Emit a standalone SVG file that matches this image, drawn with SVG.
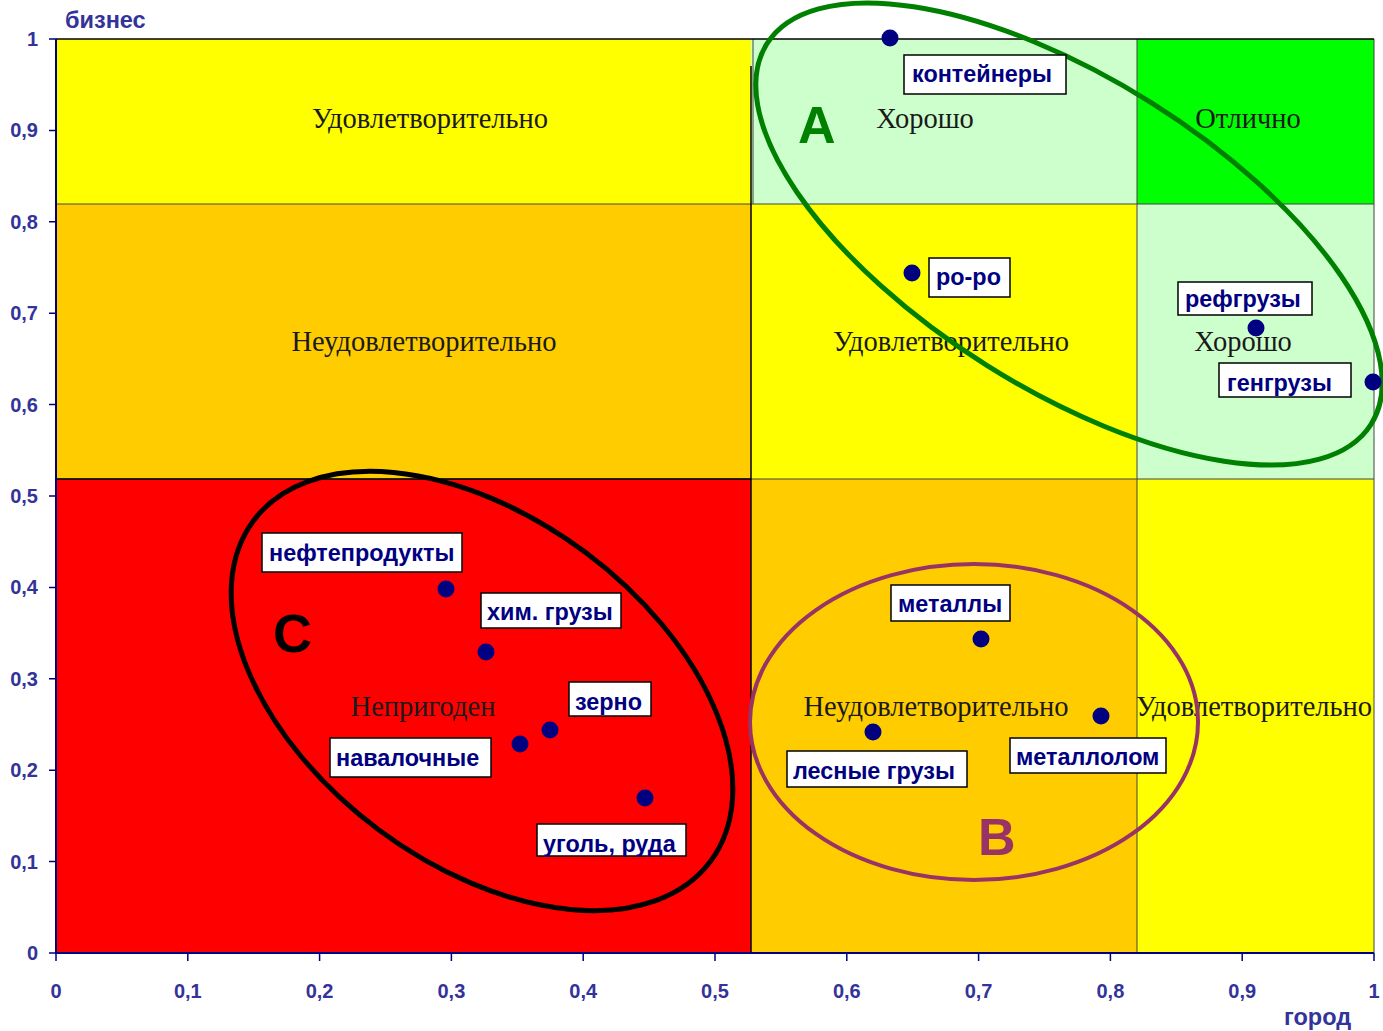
<svg xmlns="http://www.w3.org/2000/svg" width="1383" height="1031" viewBox="0 0 1383 1031">
<style>
.ax{font-family:"Liberation Sans",Arial,sans-serif;font-weight:bold;font-size:20px;fill:#333399}
.tt{font-size:23.5px}
.rl{font-family:"Liberation Serif","Times New Roman",serif;font-size:28.5px;fill:#1a1a1a;text-anchor:middle}
.lb rect{fill:#fff;stroke:#000;stroke-width:1.5}
.lb text{font-family:"Liberation Sans",Arial,sans-serif;font-weight:bold;font-size:23.4px;fill:#000080}
.dot{fill:#000080}
.bd{stroke:#444;stroke-width:1;fill:none}
</style>
<rect width="1383" height="1031" fill="#fff"/>
<g id="regions">
<rect x="56" y="39" width="695" height="165" fill="#ffff00"/>
<rect x="751" y="39" width="386" height="165" fill="#ccffcc"/>
<rect x="1137" y="39" width="237" height="165" fill="#00ff00"/>
<rect x="56" y="204" width="695" height="275" fill="#ffcc00"/>
<rect x="751" y="204" width="386" height="275" fill="#ffff00"/>
<rect x="1137" y="204" width="237" height="275" fill="#ccffcc"/>
<rect x="56" y="479" width="695" height="474" fill="#ff0000"/>
<rect x="751" y="479" width="386" height="474" fill="#ffcc00"/>
<rect x="1137" y="479" width="237" height="474" fill="#ffff00"/>
<path class="bd" d="M56 204H1374M56 479H1374M753 39V204M1137 39V953M1374 39V953"/>
<path d="M751 66V953" stroke="#000" stroke-width="1.5"/>
<path d="M56 39H1374" stroke="#000" stroke-width="1.5"/>
<path d="M56 479H751" stroke="#000" stroke-width="1.5"/>
<text class="rl" x="430" y="128">Удовлетворительно</text>
<text class="rl" x="925" y="128">Хорошо</text>
<text class="rl" x="1248" y="128">Отлично</text>
<text class="rl" x="424" y="351">Неудовлетворительно</text>
<text class="rl" x="951" y="351">Удовлетворительно</text>
<text class="rl" x="1243" y="351">Хорошо</text>
<text class="rl" x="423" y="716">Непригоден</text>
<text class="rl" x="936" y="716">Неудовлетворительно</text>
<text class="rl" x="1254" y="716">Удовлетворительно</text>
</g>
<g id="axes">
<path d="M56 39V953H1374" stroke="#000080" stroke-width="2" fill="none"/>
<path stroke="#000080" stroke-width="1.5" d="M49 39H56M49 130.4H56M49 221.8H56M49 313.2H56M49 404.6H56M49 496H56M49 587.4H56M49 678.8H56M49 770.2H56M49 861.6H56M49 953H56M56 953V961M187.8 953V961M319.6 953V961M451.4 953V961M583.2 953V961M715 953V961M846.8 953V961M978.6 953V961M1110.4 953V961M1242.2 953V961M1374 953V961"/>
<g class="ax" text-anchor="end">
<text x="38" y="46">1</text>
<text x="38" y="137">0,9</text>
<text x="38" y="229">0,8</text>
<text x="38" y="320">0,7</text>
<text x="38" y="412">0,6</text>
<text x="38" y="503">0,5</text>
<text x="38" y="594">0,4</text>
<text x="38" y="686">0,3</text>
<text x="38" y="777">0,2</text>
<text x="38" y="869">0,1</text>
<text x="38" y="960">0</text>
</g>
<g class="ax" text-anchor="middle">
<text x="56" y="998">0</text>
<text x="187.8" y="998">0,1</text>
<text x="319.6" y="998">0,2</text>
<text x="451.4" y="998">0,3</text>
<text x="583.2" y="998">0,4</text>
<text x="715" y="998">0,5</text>
<text x="846.8" y="998">0,6</text>
<text x="978.6" y="998">0,7</text>
<text x="1110.4" y="998">0,8</text>
<text x="1242.2" y="998">0,9</text>
<text x="1374" y="998">1</text>
</g>
<text class="ax tt" x="65" y="28">бизнес</text>
<text class="ax tt" x="1284" y="1025">город</text>
</g>
<g id="groups" fill="none">
<ellipse cx="1069" cy="234" rx="357" ry="155" transform="rotate(32.2 1069 234)" stroke="#008000" stroke-width="5"/>
<ellipse cx="482" cy="691" rx="285" ry="173" transform="rotate(36.7 482 691)" stroke="#000" stroke-width="5"/>
<ellipse cx="974" cy="722" rx="224" ry="158" stroke="#993366" stroke-width="4"/>
<text x="798" y="143" font-family="Liberation Sans,Arial,sans-serif" font-weight="bold" font-size="52" fill="#008000">A</text>
<text x="273" y="652" font-family="Liberation Sans,Arial,sans-serif" font-weight="bold" font-size="54" fill="#000">C</text>
<text x="978" y="855" font-family="Liberation Sans,Arial,sans-serif" font-weight="bold" font-size="52" fill="#993366">B</text>
</g>
<g id="p-konteinery" class="lb"><circle class="dot" cx="890" cy="38" r="8.5"/><rect x="904" y="55" width="162" height="39"/><text x="912" y="82">контейнеры</text></g>
<g id="p-roro" class="lb"><circle class="dot" cx="912" cy="273" r="8.5"/><rect x="929" y="258" width="81" height="39"/><text x="936" y="285">ро-ро</text></g>
<g id="p-ref" class="lb"><circle class="dot" cx="1256" cy="328" r="8.5"/><rect x="1178" y="282" width="134" height="33"/><text x="1185" y="307">рефгрузы</text></g>
<g id="p-gen" class="lb"><rect x="1219" y="363" width="132" height="34"/><text x="1227" y="391">генгрузы</text><circle class="dot" cx="1373" cy="382" r="8.5"/></g>
<g id="p-neft" class="lb"><circle class="dot" cx="446" cy="589" r="8.5"/><rect x="262" y="533" width="200" height="39"/><text x="269" y="561">нефтепродукты</text></g>
<g id="p-him" class="lb"><circle class="dot" cx="486" cy="652" r="8.5"/><rect x="481" y="593" width="140" height="35"/><text x="487" y="620">хим. грузы</text></g>
<g id="p-zerno" class="lb"><circle class="dot" cx="550" cy="730" r="8.5"/><rect x="569" y="682" width="82" height="34"/><text x="575" y="710">зерно</text></g>
<g id="p-naval" class="lb"><circle class="dot" cx="520" cy="744" r="8.5"/><rect x="330" y="738" width="161" height="39"/><text x="336" y="766">навалочные</text></g>
<g id="p-ugol" class="lb"><circle class="dot" cx="645" cy="798" r="8.5"/><rect x="537" y="824" width="149" height="32"/><text x="543" y="852">уголь, руда</text></g>
<g id="p-metal" class="lb"><circle class="dot" cx="981" cy="639" r="8.5"/><rect x="891" y="585" width="119" height="36"/><text x="898" y="612">металлы</text></g>
<g id="p-les" class="lb"><circle class="dot" cx="873" cy="732" r="8.5"/><rect x="787" y="751" width="180" height="36"/><text x="793" y="779">лесные грузы</text></g>
<g id="p-lom" class="lb"><circle class="dot" cx="1101" cy="716" r="8.5"/><rect x="1010" y="738" width="156" height="35"/><text x="1016" y="765">металлолом</text></g>
</svg>
